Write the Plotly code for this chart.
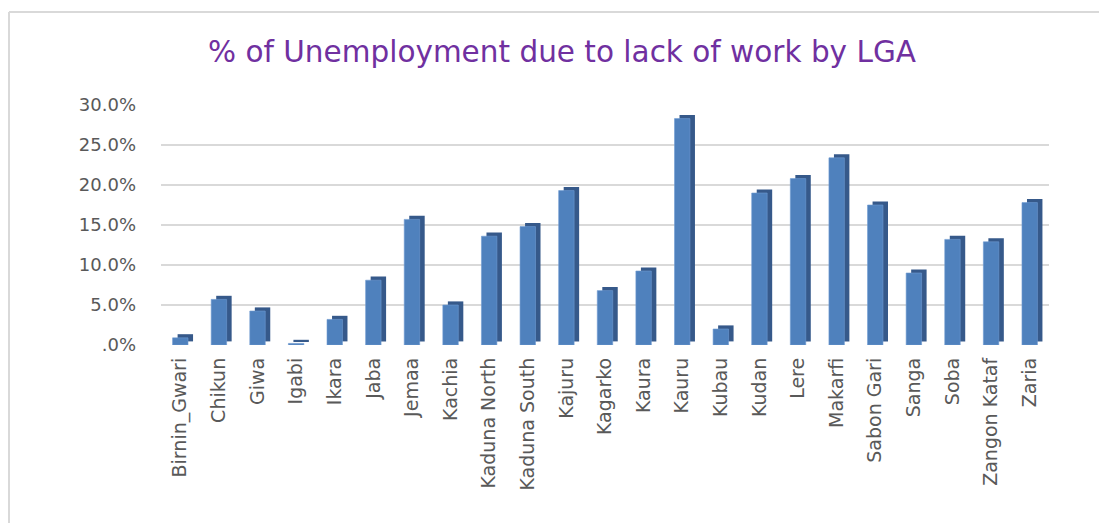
import plotly.graph_objects as go

categories = ["Birnin_Gwari", "Chikun", "Giwa", "Igabi", "Ikara", "Jaba", "Jemaa", "Kachia",
              "Kaduna North", "Kaduna South", "Kajuru", "Kagarko", "Kaura", "Kauru", "Kubau",
              "Kudan", "Lere", "Makarfi", "Sabon Gari", "Sanga", "Soba", "Zangon Kataf", "Zaria"]
values = [0.9, 5.7, 4.25, 0.2, 3.2, 8.1, 15.7, 5.0, 13.6, 14.8, 19.3, 6.8, 9.25, 28.3, 2.0,
          19.0, 20.8, 23.4, 17.5, 9.0, 13.2, 12.9, 17.8]
tick_vals = [0, 5, 10, 15, 20, 25, 30]
tick_text = [".0%", "5.0%", "10.0%", "15.0%", "20.0%", "25.0%", "30.0%"]
title_text = "% of Unemployment due to lack of work by LGA"

W, H = 1107, 523
OFF = 8  # page body margin
L, R, T, B = 153, 66, 97, 186

x_idx = list(range(len(categories)))
depth = 0.45  # percent units for the top face
shadow = go.Bar(x=x_idx, y=values, base=[depth] * len(values), width=0.40, offset=-0.07,
                marker=dict(color="#36598a", line=dict(width=0)), hoverinfo="skip", showlegend=False)
front = go.Bar(x=x_idx, y=values, width=0.40, offset=-0.20,
               marker=dict(color="#4f81bd", line=dict(width=0.6, color="#6f9bd1")),
               showlegend=False)

fig = go.Figure([shadow, front])

pw = W - L - R
ph = H - T - B
def px_x(p):
    return (p - OFF - L) / pw
def px_y(p):
    return (H - B - (p - OFF)) / ph

frame = dict(color="#d9d9d9", width=2)
fig.update_layout(
    width=W, height=H,
    margin=dict(l=L, r=R, t=T, b=B, autoexpand=False),
    paper_bgcolor="white", plot_bgcolor="white",
    barmode="overlay",
    title=dict(text=title_text, x=(562 - OFF) / W, xanchor="center", y=1 - (52 - OFF) / H,
               yanchor="middle",
               font=dict(family="DejaVu Sans", size=29.5, color="#7030a0")),
    xaxis=dict(tickmode="array", tickvals=x_idx, ticktext=categories, tickangle=-90,
               range=[-0.5, len(categories) - 0.5], showgrid=False, zeroline=False,
               showline=False, ticks="", ticklabelstandoff=8,
               tickfont=dict(family="DejaVu Sans", size=19, color="#595959")),
    yaxis=dict(tickmode="array", tickvals=tick_vals, ticktext=tick_text, range=[0, 30],
               showgrid=True, gridcolor="#d9d9d9", gridwidth=2, zeroline=False, showline=False,
               ticks="", ticklabelstandoff=24,
               tickfont=dict(family="DejaVu Sans", size=18, color="#595959")),
    shapes=[
        dict(type="line", xref="paper", yref="paper",
             x0=px_x(OFF + 1), x1=px_x(1200), y0=px_y(12), y1=px_y(12), line=frame),
        dict(type="line", xref="paper", yref="paper",
             x0=px_x(OFF + 1), x1=px_x(OFF + 1), y0=px_y(12), y1=px_y(560), line=frame),
    ],
)

fig.write_html("out.html")
